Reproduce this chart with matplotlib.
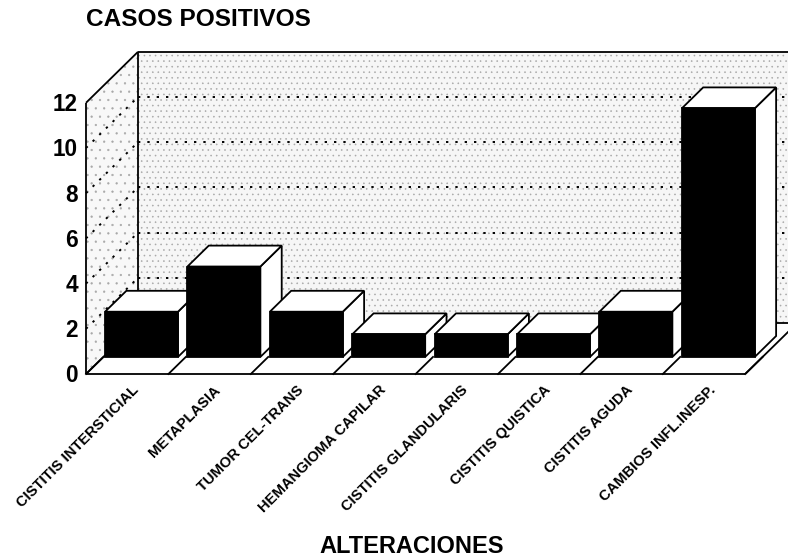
import matplotlib
matplotlib.use("Agg")
import matplotlib.pyplot as plt
from matplotlib.patches import Polygon, Rectangle

plt.rcParams["font.family"] = ["Liberation Sans", "DejaVu Sans"]
plt.rcParams["hatch.linewidth"] = 0.4

# ---- data ---------------------------------------------------------------
categorias = ["CISTITIS INTERSTICIAL", "METAPLASIA", "TUMOR CEL-TRANS",
              "HEMANGIOMA CAPILAR", "CISTITIS GLANDULARIS", "CISTITIS QUISTICA",
              "CISTITIS AGUDA", "CAMBIOS INFL.INESP."]
casos = [2, 4, 2, 1, 1, 1, 2, 11]
ticks_y = [0, 2, 4, 6, 8, 10, 12]
titulo_y = "CASOS POSITIVOS"
titulo_x = "ALTERACIONES"

# ---- canvas / scales ----------------------------------------------------
W, H = 788, 559
fig = plt.figure(figsize=(W / 100, H / 100), dpi=100)
ax = fig.add_axes([0, 0, 1, 1])
px_cat, px_val = 82.4, 22.6          # pixels per category slot / per case
x0px, y0px = 86, 374                 # front-left corner of the floor
ax.set_xlim(-x0px / px_cat, (W - x0px) / px_cat)
ax.set_ylim(-(H - y0px) / px_val, y0px / px_val)
ax.axis("off")

n = len(categorias)
ymax = ticks_y[-1]
DX, DY = 52 / px_cat, 51 / px_val    # depth of the 3-D box
f0, f1 = 0.335, 0.745                # bar front / back as fraction of depth
bw, boff = 0.885, 0.02               # bar width and offset inside its slot
lw = 1.3

# ---- walls and floor ----------------------------------------------------
back = Polygon([(DX, DY), (n + DX, DY), (n + DX, DY + ymax), (DX, DY + ymax)],
               facecolor="#f6f6f6", edgecolor="#a8a8a8", hatch="...", lw=0, zorder=1)
left = Polygon([(0, 0), (DX, DY), (DX, DY + ymax), (0, ymax)],
               facecolor="#f8f8f8", edgecolor="#a8a8a8", hatch="..", lw=0, zorder=1)
floor = Polygon([(0, 0), (n, 0), (n + DX, DY), (DX, DY)],
                facecolor="white", edgecolor="none", zorder=2)
for p in (back, left, floor):
    ax.add_patch(p)

# dotted grid on back and left walls
for v in ticks_y[1:-1]:
    ax.plot([DX, n + DX], [DY + v, DY + v], color="black", lw=1.4,
            ls=(0, (1.2, 3.6)), zorder=3)
    ax.plot([0, DX], [v, DY + v], color="black", lw=1.4,
            ls=(0, (1.2, 3.6)), zorder=3)

# frame edges
frame = [
    ([0, 0], [0, ymax]),
    ([0, DX], [ymax, DY + ymax]),
    ([DX, n + DX], [DY + ymax, DY + ymax]),
    ([DX, DX], [DY, DY + ymax]),
    ([0, n], [0, 0]),
    ([n, n + DX], [0, DY]),
    ([DX, n + DX], [DY, DY]),
    ([0, DX], [0, DY]),
]
for xs, ys in frame:
    ax.plot(xs, ys, color="black", lw=lw, solid_capstyle="butt", zorder=4)

# floor separators in front of every bar
for i in range(n + 1):
    ax.plot([i, i + f0 * DX], [0, f0 * DY], color="black", lw=lw, zorder=4)

# ---- bars -----------------------------------------------------------------
ddx, ddy = (f1 - f0) * DX, (f1 - f0) * DY
for i, v in enumerate(casos):
    z = 10 + i
    xf, yf = i + boff + f0 * DX, f0 * DY
    side = Polygon([(xf + bw, yf), (xf + bw + ddx, yf + ddy),
                    (xf + bw + ddx, yf + v + ddy), (xf + bw, yf + v)],
                   facecolor="white", edgecolor="black", lw=lw, zorder=z,
                   joinstyle="miter")
    top = Polygon([(xf, yf + v), (xf + bw, yf + v),
                   (xf + bw + ddx, yf + v + ddy), (xf + ddx, yf + v + ddy)],
                  facecolor="white", edgecolor="black", lw=lw, zorder=z,
                  joinstyle="miter")
    front = Rectangle((xf, yf), bw, v, facecolor="black", edgecolor="black",
                      lw=lw, zorder=z)
    for p in (side, top, front):
        ax.add_patch(p)

# ---- text -----------------------------------------------------------------
for v in ticks_y:
    ax.text(-8 / px_cat, v - 0.08, str(v), ha="right", va="center",
            fontsize=16.3, fontweight="bold")

for i, lab in enumerate(categorias):
    ax.text(i + 0.55, -9 / px_val, lab, rotation=45, rotation_mode="anchor",
            ha="right", va="top", fontsize=10.6, fontweight="bold")

fig.text(86 / W, 1 - 20 / H, titulo_y, ha="left", va="center",
         fontsize=17.6, fontweight="bold")
fig.text(412 / W, 1 - 546.5 / H, titulo_x, ha="center", va="center",
         fontsize=17, fontweight="bold")

fig.savefig("out.png", dpi=100)
